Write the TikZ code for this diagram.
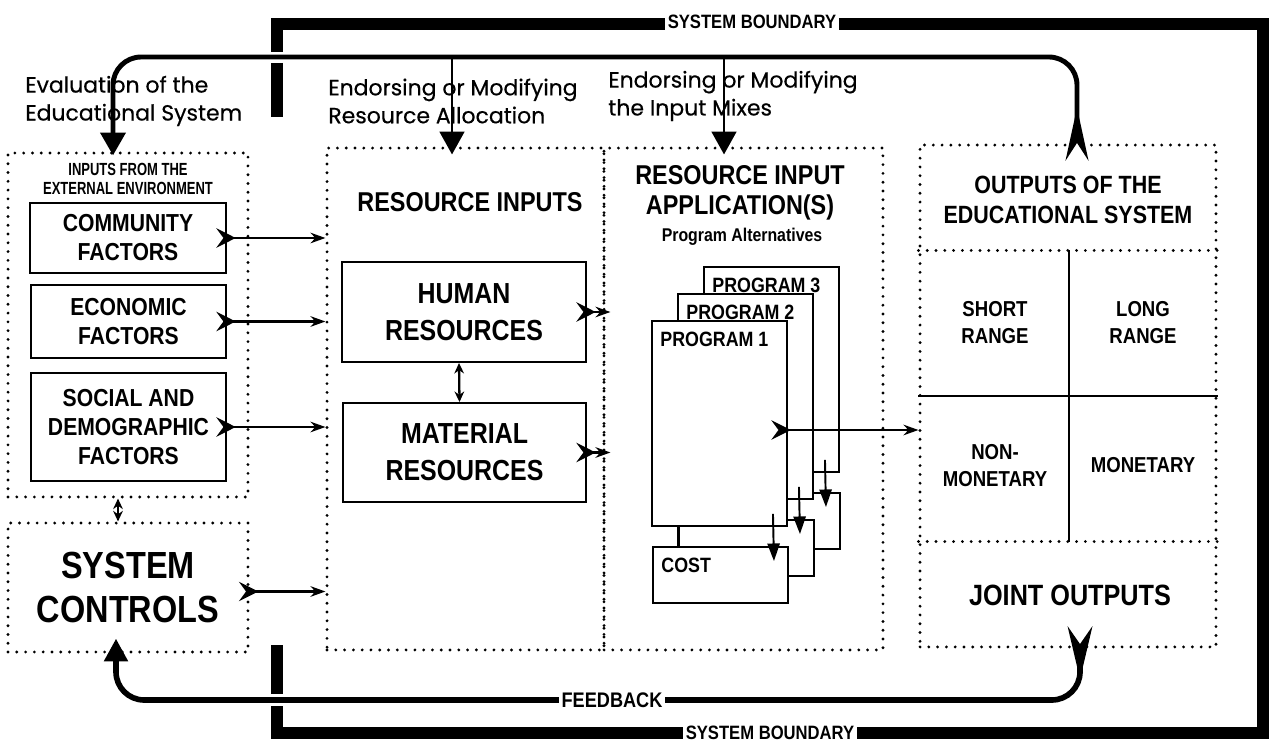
\documentclass[tikz,border=0pt]{standalone}
\usepackage{fontspec}
\setmainfont{Liberation Sans}
\newfontfamily\narrowfont[FakeStretch=0.86]{Liberation Sans}
\newfontfamily\slimfont[FakeStretch=0.74]{Liberation Sans}
\newfontfamily\roundfont[FakeBold=0.4]{Poppins}
\usetikzlibrary{arrows.meta,calc,positioning}

\begin{document}
\begin{tikzpicture}[
  x=0.02cm, y=-0.02cm,
  dotbox/.style={draw, line width=1.8pt, dash pattern=on 0pt off 5pt, line cap=round, align=center},
  dotline/.style={line width=1.8pt, dash pattern=on 0pt off 5pt, line cap=round},
  box/.style={draw, line width=1.1pt, fill=white, align=center, font=\narrowfont\bfseries\fontsize{14}{16.5}\selectfont},
  bigbox/.style={box, font=\narrowfont\bfseries\fontsize{16.5}{21}\selectfont},
  progbox/.style={draw, line width=1.1pt, fill=white, minimum width=2.7cm},
  head/.style={align=center, inner sep=0pt, font=\narrowfont\bfseries\fontsize{15.5}{17}\selectfont},
  cell/.style={align=center, inner sep=0pt, font=\narrowfont\bfseries\fontsize{12.3}{15.3}\selectfont},
  ptext/.style={anchor=north west, inner sep=0pt, font=\narrowfont\bfseries\fontsize{11.8}{14}\selectfont},
  hand/.style={anchor=west, align=left, inner sep=0pt, font=\roundfont\fontsize{12.5}{15.9}\selectfont},
  tag/.style={fill=white, inner sep=1.5pt, font=\narrowfont\bfseries\fontsize{11}{13}\selectfont},
  flow/.style={line width=1.4pt, shorten <=-6pt, {Stealth[reversed,length=11pt,width=11pt,inset=4pt]}-{Stealth[length=8.5pt,width=6pt]}},
  both/.style={line width=1.3pt, {Stealth[length=6pt,width=5.5pt]}-{Stealth[length=6pt,width=5.5pt]}},
  down/.style={line width=1.1pt, -{Triangle[length=10pt,width=7pt]}},
  fb/.style={line width=2.8pt, rounded corners=16pt},
  drop/.style={line width=1.6pt, -{Triangle[length=13pt,width=14pt]}},
  bound/.style={line width=6.8pt}
]
\useasboundingbox (0,0) rectangle (1270,749);

\node[dotbox, minimum width=4.8cm, minimum height=6.88cm] (extin) at (128,325) {};
\node[align=center, inner sep=0pt, font=\slimfont\bfseries\fontsize{10}{11.3}\selectfont] (extitle) at (128,179) {INPUTS FROM THE\\EXTERNAL ENVIRONMENT};
\node[box, minimum width=3.92cm, minimum height=1.4cm] (commu) at (128,238) {COMMUNITY\\FACTORS};
\node[box, minimum width=3.9cm, minimum height=1.46cm] (econ) at (128.5,321.5) {ECONOMIC\\FACTORS};
\node[box, minimum width=3.9cm, minimum height=2.16cm] (social) at (128.5,427) {SOCIAL AND\\DEMOGRAPHIC\\FACTORS};
\node[dotbox, minimum width=4.8cm, minimum height=2.58cm, font=\narrowfont\bfseries\fontsize{21.5}{25.5}\selectfont] (ctrl) at (128,587.5) {SYSTEM\\CONTROLS};

\node[dotbox, minimum width=5.54cm, minimum height=10.04cm] (resin) at (465.5,399) {};
\node[head] (rintitle) at (470,202) {RESOURCE INPUTS};
\node[bigbox, minimum width=4.88cm, minimum height=2cm] (human) at (464,312) {HUMAN\\RESOURCES};
\node[bigbox, minimum width=4.86cm, minimum height=1.98cm] (material) at (464.5,452.5) {MATERIAL\\RESOURCES};

\node[dotbox, minimum width=5.58cm, minimum height=10.04cm] (app) at (743.5,399) {};
\node[head] (apptitle) at (740,193) {RESOURCE INPUT\\APPLICATION(S)};
\node[inner sep=0pt, font=\narrowfont\bfseries\fontsize{10.5}{12}\selectfont] (alttitle) at (742,237) {Program Alternatives};

\foreach \i in {3,2,1}{
  \node[progbox, minimum height=4.1cm] (prog\i) at ({719.5+26*(\i-1)},{423.5-27*(\i-1)}) {};
  \node[ptext] (plabel\i) at ($(prog\i.north west)+(9,12)$) {PROGRAM \i};
  \node[progbox, minimum height=1.12cm] (cost\i) at ({720.5+26*(\i-1)},{575-27*(\i-1)}) {};
  \ifnum\i=1 \node[ptext] (clabel) at ($(cost1.north west)+(9,12)$) {COST}; \fi
  \draw[line width=1.1pt] ($(prog\i.south west)+(27,0)$) -- ($(prog\i.south west |- cost\i.north)+(27,0)$);
  \draw[down] ($(prog\i.south east)+(-15,-13)$) -- ($(cost\i.north east)+(-15,15)$);
}

\node[dotbox, minimum width=5.92cm, minimum height=10.04cm] (outbox) at (1068,396) {};
\draw[dotline] ($(outbox.north west)+(0,107)$) -- ($(outbox.north east)+(0,107)$);
\draw[dotline] ($(outbox.south west)+(0,-107)$) -- ($(outbox.south east)+(0,-107)$);
\draw[line width=1.1pt] (outbox.west) -- (outbox.east);
\draw[line width=1.1pt] ($(outbox.north)+(1,107)$) -- ($(outbox.south)+(1,-107)$);
\node[head, font=\narrowfont\bfseries\fontsize{14.2}{17}\selectfont] (outtitle) at (1068,200) {OUTPUTS OF THE\\EDUCATIONAL SYSTEM};
\node[cell] (short) at (995,323) {SHORT\\RANGE};
\node[cell] (long) at (1143,323) {LONG\\RANGE};
\node[cell] (nonmon) at (995,466) {NON-\\MONETARY};
\node[cell] (mon) at (1143,465) {MONETARY};
\node[head, font=\narrowfont\bfseries\fontsize{16.7}{19}\selectfont] (joint) at (1070,595) {JOINT OUTPUTS};

\draw[flow] (commu.east) -- (commu.east -| resin.west);
\draw[flow] (econ.east) -- (econ.east -| resin.west);
\draw[flow] (social.east) -- (social.east -| resin.west);
\draw[flow] ($(ctrl.east)+(0,4)$) coordinate (c0) -- (c0 -| resin.west);
\draw[flow] (human.east) -- ($(human.east -| app.west)+(8,0)$);
\draw[flow] (material.east) -- ($(material.east -| app.west)+(8,0)$);
\draw[flow] ($(prog1.east)+(-6,6.5)$) coordinate (p0) -- (p0 -| outbox.west);
\draw[both] ($(extin.south)+(-10,0)$) -- ($(ctrl.north)+(-10,0)$);
\draw[both] ($(human.south)+(-5,0)$) -- ($(material.north)+(-5,0)$);

\draw[bound] (277,52) -- (277,24) -- (1263,24) -- (1263,733) -- (277,733) -- (277,706);
\draw[bound] (277,63) -- (277,117);
\draw[bound] (277,645) -- (277,694);
\node[tag] (sbtop) at (752,22) {SYSTEM BOUNDARY};
\node[tag] (sbbot) at (770,733) {SYSTEM BOUNDARY};

\coordinate (outgo) at ($(outbox.north)+(9,17)$);
\coordinate (inin) at ($(extin.north)+(-15,4)$);
\coordinate (j1) at (452,57);
\coordinate (j2) at (724,57);
\draw[fb, {Stealth[reversed,length=30pt,width=13pt,inset=10pt]}-{Triangle[length=13pt,width=14pt]}] (outgo) -- (outgo |- j1) -- (inin |- j1) -- (inin);
\draw[drop] (j1) -- ($(j1 |- resin.north)+(0,8)$);
\draw[drop] (j2) -- ($(j2 |- app.north)+(0,8)$);

\coordinate (jointgo) at ($(outbox.south)+(12,-22)$);
\coordinate (ctrlin) at ($(ctrl.south)+(-12,-15)$);
\draw[fb, line width=3.2pt, {Stealth[reversed,length=30pt,width=14pt,inset=10pt]}-{Triangle[length=13pt,width=13pt]}] (jointgo) -- (jointgo |- 0,700) -- (ctrlin |- 0,700) -- (ctrlin);
\node[tag, font=\narrowfont\bfseries\fontsize{12}{14}\selectfont] (fback) at (612,700) {FEEDBACK};

\node[hand] (evallbl) at (25,101) {Evaluation of the\\Educational System};
\node[hand] (alloclbl) at (328,101) {Endorsing or Modifying\\Resource Allocation};
\node[hand] (mixlbl) at (608,96) {Endorsing or Modifying\\the Input Mixes};
\end{tikzpicture}
\end{document}
